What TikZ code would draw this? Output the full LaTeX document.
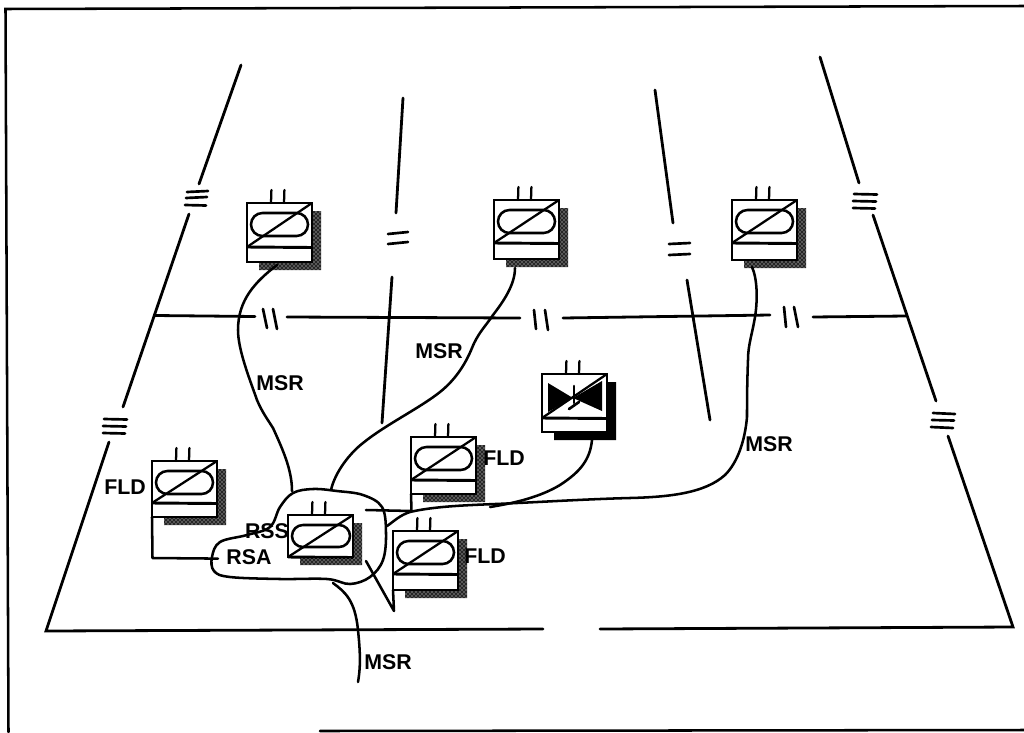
\documentclass[tikz,border=0pt]{standalone}
\usepackage{fontspec}
\usetikzlibrary{patterns}
\setmainfont{Liberation Sans}
\begin{document}
\begin{tikzpicture}[x=0.75pt,y=-0.75pt,
  frameline/.style={line width=1.9pt,line cap=round},
  zone/.style={line width=2.1pt,line cap=round},
  wire/.style={line width=1.9pt,line cap=round,line join=round},
  tick/.style={line width=2pt,line cap=round},
  devbox/.style={draw,fill=white,line width=1.9pt,minimum width=48.75pt,inner sep=0pt,outer sep=0pt,anchor=north west},
  devline/.style={line width=2.2pt},
  thinline/.style={line width=1.7pt,line cap=round},
  shade/.style={fill=black!85},
  lbl/.style={font=\bfseries\fontsize{16pt}{17pt}\selectfont,inner sep=0pt,text height=11.5pt,text depth=0pt,anchor=center}
]
\useasboundingbox (0,0) rectangle (1024,732);
\newcommand{\devunit}[6]{% name x y h div shadowcolour
  \begin{scope}[shift={(#2,#3)}]
    \fill[#6] (65,8) -- (74,8) -- (74,#4+8) -- (12,#4+8) -- (12,#4) -- (65,#4) -- cycle;
    \node[devbox,minimum height=#4*0.75pt] (#1) at (0,0) {};
    \draw[thinline] (24,0) -- (24.4,-13);
    \draw[thinline] (37,0) -- (37.4,-13);
    \draw[devline] (0,#5) -- (65,#5+0.5);
    \draw[thinline] (0,#5) -- (65,0);
  \end{scope}}
\newcommand{\devpill}[2]{% x y
  \draw[line width=1.9pt,rounded corners=8.6pt] (#1+4,#2+10) rectangle (#1+61,#2+33);}
\tikzset{fleck/.style={pattern=crosshatch dots,pattern color=white}}
\newcommand{\devfleck}[3]{% x y h
  \fill[fleck] (#1+66,#2+8) rectangle (#1+74,#2+#3+8);
  \fill[fleck] (#1+12,#2+#3+1) rectangle (#1+66,#2+#3+8);}

% frame
\coordinate (fa) at (5.5,9); \coordinate (fb) at (1024,6); \coordinate (fc) at (8.5,732);
\coordinate (fd) at (320,731); \coordinate (fe) at (1024,730);
\draw[frameline] (fb) -- (fa) -- (fc);
\draw[frameline] (fd) -- (fe);

% zone outline
\draw[zone] (241,65) -- (199,184);
\draw[zone] (189,214) -- (123,407);
\draw[zone] (109,442) -- (46,631) -- (543,629);
\draw[zone] (600,629) -- (1013,627) -- (948,436);
\draw[zone] (936,401) -- (873,215);
\draw[zone] (859,183) -- (820,57);
\draw[zone] (403,98) -- (396,213);
\draw[zone] (392,277) -- (382,423);
\draw[zone] (655,90) -- (673,223);
\draw[zone] (687,280) -- (710,420);
\draw[zone] (155,315.5) -- (255,316.5);
\draw[zone] (287,317) -- (520,318);
\draw[zone] (563,318) -- (770,315);
\draw[zone] (813,317) -- (906,316);

% break marks
\foreach \a/\b/\c/\d in {187/192/208/191,186/198/207/197,185/205/206/205.5,
  104/419/127/419.5,103/426/126/426.5,103/433/125/433.5,
  854/194/877/194.5,853/201/876/201.5,853/208/875/208.5,
  933/413/955/414,932/420/954/420.5,931/427/953/428,
  388/234/408/232,388/244/408/242,669/244/690/243,669/255/690/254}
  \draw[tick] (\a,\b) -- (\c,\d);
\foreach \a/\b/\c/\d in {263/309/267/328,273/309/277/329,534/310/536/329,545/310/548/330,
  784/307/786/327,794/307/798/327}
  \draw[tick] (\a,\b) -- (\c,\d);

% devices
\devunit{topa}{247}{203}{59}{44}{shade}
\devunit{topb}{494}{200}{59}{43}{shade}
\devunit{topc}{732}{200}{60}{43}{shade}
\devunit{valve}{542}{374}{58}{44}{fill=black}
\devunit{fldl}{152}{461}{56}{42}{shade}
\devunit{fldc}{411}{437}{57}{43}{shade}
\devunit{flds}{393}{531}{59}{43}{shade}
\devunit{rss}{288}{515}{42}{42}{shade}
\devfleck{247}{203}{59}
\devfleck{494}{200}{59}
\devfleck{732}{200}{60}
\devfleck{152}{461}{56}
\devfleck{411}{437}{57}
\devfleck{393}{531}{59}
\devfleck{288}{515}{42}
\devpill{247}{203}
\devpill{494}{200}
\devpill{732}{200}
\devpill{152}{461}
\devpill{411}{437}
\devpill{393}{531}
\draw[line width=1.9pt,rounded corners=8.2pt] (292,525) rectangle (350,547);

% valve symbol
\fill (548,383) -- (548,412) -- (573,398) -- (602,411) -- (602,381) -- (573,398) -- cycle;
\draw[line width=2pt,white] (574,385) -- (574,392);
\draw[line width=2pt,line cap=round] (574,386) -- (574,403);
\draw[line width=2pt,line cap=round] (569,409) -- (579,402);

% RSA loop
\draw[wire] plot[smooth cycle,tension=.6] coordinates {(212,557) (220,542) (247,535) (270,527) (280,507) (293,493) (313,489) (337,491) (363,495) (382,507) (386,533) (383,560) (370,577) (350,584) (327,579) (280,579) (230,577) (214,571)};

% connectors
\coordinate (ma) at (277,265); \coordinate (mb) at (292,491);
\draw[wire] (ma) .. controls (255,282) and (238,300) .. (238,330) .. controls (238,350) and (250,380) .. (257,400) .. controls (262,412) and (268,420) .. (273,428) .. controls (283,450) and (292,470) .. (mb);
\coordinate (mc) at (515,268); \coordinate (md) at (331,490);
\draw[wire] (mc) .. controls (515,285) and (503,302) .. (493,315) .. controls (485,327) and (478,333) .. (472,348) .. controls (465,365) and (455,380) .. (440,392) .. controls (420,408) and (385,425) .. (363,443) .. controls (350,453) and (335,472) .. (md);
\coordinate (me) at (752,267); \coordinate (mf) at (387,526);
\draw[wire] (me) .. controls (757,278) and (758,298) .. (755,317) .. controls (752,335) and (748,345) .. (748,360) .. controls (747,385) and (747,405) .. (747,417) .. controls (745,440) and (738,462) .. (725,475) .. controls (705,493) and (670,497) .. (630,498) .. controls (590,499) and (540,502) .. (517,503) .. controls (480,505) and (440,505) .. (410,512) .. controls (400,515) and (393,522) .. (mf);
\coordinate (mg) at (592,440); \coordinate (mh) at (490,507);
\draw[wire] (mg) .. controls (590,460) and (580,472) .. (560,485) .. controls (540,497) and (515,503) .. (mh);
\coordinate (mi) at (333,583); \coordinate (mj) at (358,682);
\draw[wire] (mi) .. controls (345,592) and (355,600) .. (358,630) .. controls (360,650) and (361,665) .. (mj);
\coordinate (la) at (152,517); \coordinate (lc) at (152.5,558); \coordinate (lb) at (218,558.6);
\draw[wire] (la) -- (lc) -- (lb);
\coordinate (ca) at (411,494); \coordinate (cc) at (411.5,511); \coordinate (cb) at (366,510);
\draw[wire] (ca) -- (cc) -- (cb);
\coordinate (sa) at (393,590); \coordinate (sb) at (394,611); \coordinate (sc) at (366,561);
\draw[wire] (sa) -- (sb) -- (sc);

% labels
\node[lbl] (l1) at (280,383) {MSR};
\node[lbl] (l2) at (439,351) {MSR};
\node[lbl] (l3) at (769,444) {MSR};
\node[lbl] (l4) at (388,662) {MSR};
\node[lbl] (l5) at (125,487) {FLD};
\node[lbl] (l6) at (504,458) {FLD};
\node[lbl] (l7) at (485,556) {FLD};
\node[lbl] (l8) at (267,531) {RSS};
\node[lbl] (l9) at (249,557) {RSA};
\end{tikzpicture}
\end{document}
